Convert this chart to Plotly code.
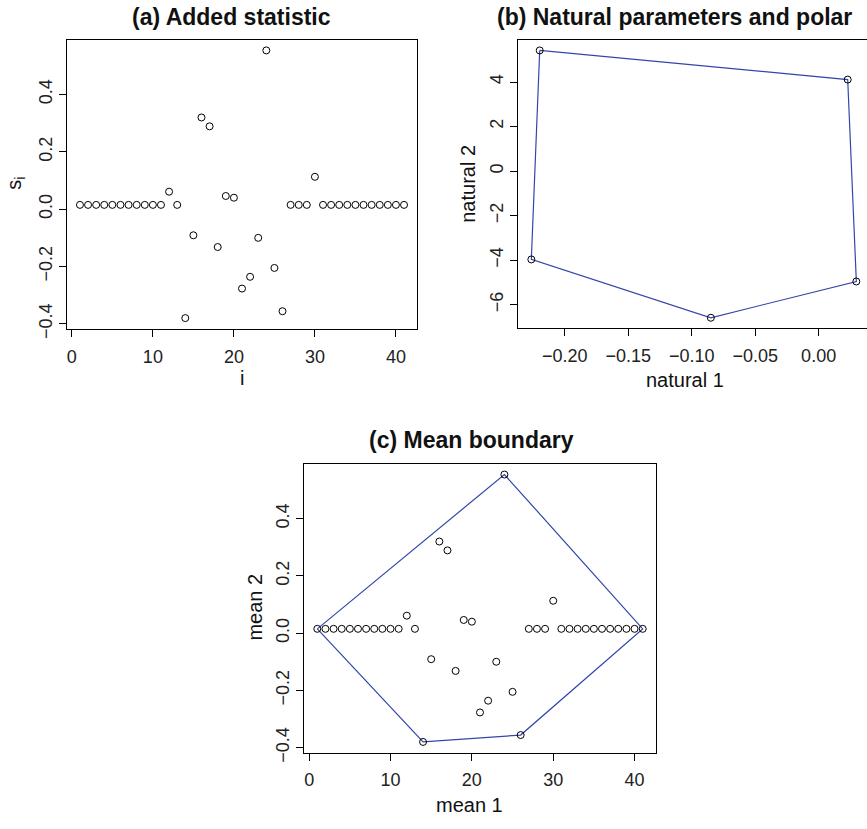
import plotly.graph_objects as go

# ---------------- data ----------------
i_vals = list(range(1, 42))
s_vals = [0.015] * 11 + [0.061, 0.015, -0.380, -0.091, 0.320, 0.289, -0.132, 0.046, 0.040,
          -0.277, -0.236, -0.100, 0.554, -0.205, -0.356, 0.015, 0.015, 0.015, 0.113] + [0.015] * 11

natural1 = [-0.2197, 0.0229, 0.0297, -0.0849, -0.2263]
natural2 = [5.42, 4.11, -4.96, -6.59, -3.97]

x_ticks_a = [0, 10, 20, 30, 40]
y_ticks_a = [-0.4, -0.2, 0.0, 0.2, 0.4]
x_ticks_b = [-0.20, -0.15, -0.10, -0.05, 0.00]
y_ticks_b = [-6, -4, -2, 0, 2, 4]

titles = ["(a) Added statistic", "(b) Natural parameters and polar", "(c) Mean boundary"]


# ---------------- convex hull of (i, s) ----------------
def convex_hull(px, py):
    pts = sorted(set(zip(px, py)))

    def cross(o, a, b):
        return (a[0] - o[0]) * (b[1] - o[1]) - (a[1] - o[1]) * (b[0] - o[0])

    lower, upper = [], []
    for p in pts:
        while len(lower) >= 2 and cross(lower[-2], lower[-1], p) <= 0:
            lower.pop()
        lower.append(p)
    for p in reversed(pts):
        while len(upper) >= 2 and cross(upper[-2], upper[-1], p) <= 0:
            upper.pop()
        upper.append(p)
    hull = lower[:-1] + upper[:-1]
    hull.append(hull[0])
    return [h[0] for h in hull], [h[1] for h in hull]


hx, hy = convex_hull(i_vals, s_vals)

W, H = 867, 829
BLUE = "rgb(50,70,170)"
FONT = "Liberation Sans, Arial, sans-serif"


def px_x(p):
    return p / W


def px_y(p):
    return 1 - p / H


fig = go.Figure()

marker = dict(symbol="circle-open", size=7, color="black", line=dict(width=1, color="black"))

# panel a
fig.add_trace(go.Scatter(x=i_vals, y=s_vals, mode="markers", marker=marker,
                         xaxis="x", yaxis="y", showlegend=False))
# panel b
fig.add_trace(go.Scatter(x=natural1 + natural1[:1], y=natural2 + natural2[:1], mode="lines",
                         line=dict(color=BLUE, width=1.2), xaxis="x2", yaxis="y2", showlegend=False))
fig.add_trace(go.Scatter(x=natural1, y=natural2, mode="markers", marker=marker,
                         xaxis="x2", yaxis="y2", showlegend=False))
# panel c
fig.add_trace(go.Scatter(x=hx, y=hy, mode="lines", line=dict(color=BLUE, width=1.2),
                         xaxis="x3", yaxis="y3", showlegend=False))
fig.add_trace(go.Scatter(x=i_vals, y=s_vals, mode="markers", marker=marker,
                         xaxis="x3", yaxis="y3", showlegend=False))

common = dict(showgrid=False, zeroline=False, showline=True, linecolor="black", linewidth=1,
              ticks="outside", ticklen=7, tickwidth=1, tickcolor="black",
              tickfont=dict(family=FONT, size=18, color="#222"))

fig.update_layout(
    width=W, height=H, margin=dict(l=0, r=0, t=0, b=0),
    paper_bgcolor="white", plot_bgcolor="white",
    xaxis=dict(domain=[px_x(67), px_x(417)], range=[-0.6, 42.6], tickvals=x_ticks_a,
               mirror=True, anchor="y", ticklabelstandoff=4, **common),
    yaxis=dict(domain=[px_y(333), px_y(40)], range=[-0.418, 0.592], tickvals=y_ticks_a,
               tickformat=".1f", tickangle=-90, mirror=True, anchor="x", **common),
    xaxis2=dict(domain=[px_x(518), 1.0], range=[-0.2368, 0.0381], tickvals=x_ticks_b,
                tickformat=".2f", mirror=True, anchor="y2", ticklabelstandoff=4, **common),
    yaxis2=dict(domain=[px_y(332), px_y(40)], range=[-7.05, 5.91], tickvals=y_ticks_b,
                tickangle=-90, mirror=False, anchor="x2", **common),
    xaxis3=dict(domain=[px_x(304.3), px_x(655.7)], range=[-0.6, 42.6], tickvals=x_ticks_a,
                mirror=True, anchor="y3", ticklabelstandoff=4, **common),
    yaxis3=dict(domain=[px_y(762), px_y(469.3)], range=[-0.418, 0.592], tickvals=y_ticks_a,
                tickformat=".1f", tickangle=-90, mirror=True, anchor="x3", **common),
)


def ann(text, x, y, size=20, angle=0, bold=False, xanchor="center"):
    fig.add_annotation(text=f"<b>{text}</b>" if bold else text, x=px_x(x), y=px_y(y),
                       xref="paper", yref="paper", showarrow=False, textangle=angle,
                       xanchor=xanchor, yanchor="middle",
                       font=dict(family=FONT, size=size, color="#111"))


ann(titles[0], 232, 17, size=23, bold=True)
ann(titles[1], 495, 17, size=23, bold=True, xanchor="left")
ann(titles[2], 471, 445, size=23, bold=True)

ann("i", 242, 383)
ann("s<sub>i</sub>", 16, 186, angle=-90)
ann("natural 1", 685, 385)
ann("natural 2", 468, 186, angle=-90)
ann("mean 1", 469, 815)
ann("mean 2", 255, 615, angle=-90)

fig.write_html(
    "out.html",
    config={"displayModeBar": False},
    post_script="document.body.style.margin='0';document.body.style.overflow='hidden';",
)
